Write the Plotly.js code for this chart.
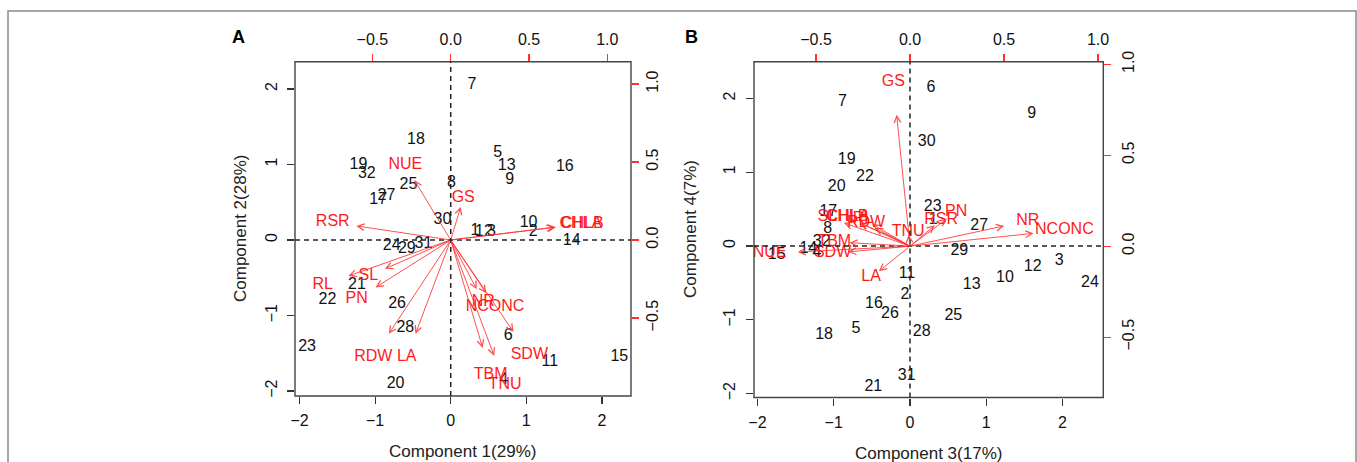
<!DOCTYPE html>
<html>
<head>
<meta charset="utf-8">
<script src="https://cdn.plot.ly/plotly-3.0.1.min.js"></script>
<style>html,body{margin:0;padding:0;background:#fff;}#chart{width:1357px;height:462px;}</style>
</head>
<body>
<div id="chart"></div>
<script>
// ---------- DATA ----------
const sampleIds = ['1','2','3','4','5','6','7','8','9','10','11','12','13','14','15','16',
                   '17','18','19','20','21','22','23','24','25','26','27','28','29','30','31','32'];
// Panel A: scores on components 1 and 2
const comp1A = [0.32,1.09,0.54,0.70,0.62,0.76,0.28,0.01,0.78,1.03,1.31,0.44,0.74,1.60,2.23,1.51,
                -0.96,-0.46,-1.22,-0.73,-1.24,-1.63,-1.90,-0.78,-0.56,-0.71,-0.85,-0.60,-0.58,-0.11,-0.36,-1.11];
const comp2A = [0.12,0.10,0.11,-1.85,1.15,-1.27,2.05,0.75,0.79,0.22,-1.61,0.11,0.98,-0.01,-1.55,0.97,
                0.53,1.33,0.99,-1.91,-0.59,-0.79,-1.42,-0.08,0.73,-0.85,0.58,-1.17,-0.12,0.26,-0.05,0.88];
// Panel B: scores on components 3 and 4
const comp3B = [0.305,-0.066,1.957,-1.22,-0.708,0.275,-0.887,-1.08,1.595,1.245,-0.04,1.608,0.808,-1.333,-1.747,-0.472,
                -1.07,-1.127,-0.83,-0.96,-0.481,-0.59,0.297,2.359,0.568,-0.262,0.908,0.153,0.646,0.219,-0.043,-1.157];
const comp4B = [0.352,-0.664,-0.199,-0.10,-1.129,2.145,1.955,0.225,1.785,-0.44,-0.38,-0.29,-0.528,-0.041,-0.122,-0.786,
                0.465,-1.206,1.165,0.80,-1.915,0.93,0.524,-0.497,-0.944,-0.921,0.275,-1.161,-0.063,1.413,-1.762,0.058];

const variables = ['CHLA','CHLB','GS','PN','LA','RL','SL','RDW','SDW','TBM','RSR','TNU','NUE','NR','NCONC'];
// Loadings (label positions), panel A: components 1 and 2
const load1A = [0.83,0.84,0.08,-0.60,-0.281,-0.817,-0.526,-0.494,0.502,0.255,-0.753,0.347,-0.29,0.208,0.283];
const load2A = [0.103,0.103,0.267,-0.38,-0.752,-0.288,-0.231,-0.752,-0.737,-0.865,0.113,-0.929,0.48,-0.395,-0.427];
// Loadings, panel B: components 3 and 4
const load3B = [-0.33,-0.335,-0.089,0.245,-0.207,-0.25,-0.44,-0.234,-0.412,-0.403,0.165,-0.01,-0.747,0.626,0.821];
const load4B = [0.16,0.16,0.903,0.188,-0.172,0.15,0.16,0.125,-0.04,0.024,0.143,0.079,-0.04,0.139,0.088];

const scoreTicks = [-2,-1,0,1,2];
const loadTicks = [-0.5,0,0.5,1.0];
const axisTitles = ['Component 1(29%)','Component 2(28%)','Component 3(17%)','Component 4(7%)'];
const panelLetters = ['A','B'];

// ---------- LAYOUT HELPERS ----------
const W = 1357, H = 462;
const FONT = 'Liberation Sans, Arial, Helvetica, sans-serif';
const px = v => v / W;
const py = v => 1 - v / H;
const ARROW_SCALE = 0.8; // R biplot: arrows drawn to 0.8 * loading, labels at loading

const frames = {
  A: {l: 295, r: 631, t: 61.7, b: 396},
  B: {l: 754, r: 1103.3, t: 61.7, b: 397.5}
};

function baseAxis(extra) {
  return Object.assign({
    showgrid: false, zeroline: false, showline: false,
    ticks: 'outside', ticklen: 7, tickwidth: 1.2, tickcolor: '#333',
    tickfont: {family: FONT, size: 16, color: '#111'},
    fixedrange: true
  }, extra);
}

const traces = [
  {x: comp1A, y: comp2A, text: sampleIds, mode: 'text', type: 'scatter', xaxis: 'x', yaxis: 'y',
   textfont: {family: FONT, size: 16, color: '#111'}, cliponaxis: false, hoverinfo: 'none'},
  {x: load1A, y: load2A, text: variables, mode: 'text', type: 'scatter', xaxis: 'x2', yaxis: 'y2',
   textfont: {family: FONT, size: 16, color: '#ff1a1a'}, cliponaxis: false, hoverinfo: 'none'},
  {x: comp3B, y: comp4B, text: sampleIds, mode: 'text', type: 'scatter', xaxis: 'x3', yaxis: 'y3',
   textfont: {family: FONT, size: 16, color: '#111'}, cliponaxis: false, hoverinfo: 'none'},
  {x: load3B, y: load4B, text: variables, mode: 'text', type: 'scatter', xaxis: 'x4', yaxis: 'y4',
   textfont: {family: FONT, size: 16, color: '#ff1a1a'}, cliponaxis: false, hoverinfo: 'none'}
];

const annotations = [];
function addArrows(lx, ly, xr, yr) {
  for (let i = 0; i < lx.length; i++) {
    annotations.push({
      xref: xr, yref: yr, axref: xr, ayref: yr,
      x: ARROW_SCALE * lx[i], y: ARROW_SCALE * ly[i], ax: 0, ay: 0,
      text: '', showarrow: true, arrowhead: 5, arrowsize: 1.3, arrowwidth: 1,
      arrowcolor: 'rgba(255,50,50,0.85)', standoff: 0, startstandoff: 0
    });
  }
}
addArrows(load1A, load2A, 'x2', 'y2');
addArrows(load3B, load4B, 'x4', 'y4');

// axis titles & panel letters
annotations.push({xref: 'paper', yref: 'paper', x: px(462), y: py(451), text: axisTitles[0], showarrow: false,
  font: {family: FONT, size: 17, color: '#222'}, xanchor: 'center', yanchor: 'middle'});
annotations.push({xref: 'paper', yref: 'paper', x: px(240), y: py(229), text: axisTitles[1], showarrow: false, textangle: -90,
  font: {family: FONT, size: 17, color: '#222'}, xanchor: 'center', yanchor: 'middle'});
annotations.push({xref: 'paper', yref: 'paper', x: px(928), y: py(453), text: axisTitles[2], showarrow: false,
  font: {family: FONT, size: 17, color: '#222'}, xanchor: 'center', yanchor: 'middle'});
annotations.push({xref: 'paper', yref: 'paper', x: px(690), y: py(229), text: axisTitles[3], showarrow: false, textangle: -90,
  font: {family: FONT, size: 17, color: '#222'}, xanchor: 'center', yanchor: 'middle'});
annotations.push({xref: 'paper', yref: 'paper', x: px(238), y: py(37), text: '<b>' + panelLetters[0] + '</b>', showarrow: false,
  font: {family: FONT, size: 18, color: '#000'}, xanchor: 'center', yanchor: 'middle'});
annotations.push({xref: 'paper', yref: 'paper', x: px(691), y: py(37), text: '<b>' + panelLetters[1] + '</b>', showarrow: false,
  font: {family: FONT, size: 18, color: '#000'}, xanchor: 'center', yanchor: 'middle'});

const shapes = [
  // outer figure frame
  {type: 'rect', xref: 'paper', yref: 'paper', x0: px(8), x1: px(1356), y0: py(480), y1: py(11),
   line: {color: '#8a8a8a', width: 1.5}, layer: 'below'}
];
['A','B'].forEach((k, i) => {
  const f = frames[k];
  shapes.push({type: 'rect', xref: 'paper', yref: 'paper', x0: px(f.l), x1: px(f.r), y0: py(f.b), y1: py(f.t),
    line: {color: '#444', width: 1.4}});
  const xa = i === 0 ? 'x' : 'x3', ya = i === 0 ? 'y' : 'y3';
  shapes.push({type: 'line', xref: xa, yref: ya + ' domain', x0: 0, x1: 0, y0: 0, y1: 1,
    line: {color: '#222', width: 1.5, dash: '5px,4px'}});
  shapes.push({type: 'line', xref: xa + ' domain', yref: ya, x0: 0, x1: 1, y0: 0, y1: 0,
    line: {color: '#222', width: 1.5, dash: '5px,4px'}});
});

const fA = frames.A, fB = frames.B;
const layout = {
  width: W, height: H, margin: {l: 0, r: 0, t: 0, b: 0},
  paper_bgcolor: '#fff', plot_bgcolor: 'rgba(0,0,0,0)', showlegend: false,
  font: {family: FONT},
  xaxis: baseAxis({domain: [px(fA.l), px(fA.r)], range: [-2.06, 2.385], tickvals: scoreTicks, anchor: 'y', side: 'bottom', ticklabelstandoff: 3}),
  yaxis: baseAxis({domain: [py(fA.b), py(fA.t)], range: [-2.066, 2.362], tickvals: scoreTicks, anchor: 'x', side: 'left', tickangle: -90, ticklabelstandoff: 4}),
  xaxis2: baseAxis({overlaying: 'x', side: 'top', anchor: 'y', range: [-0.994, 1.151], tickvals: loadTicks, tickformat: '.1f',
    tickcolor: '#ff3030', ticklabelstandoff: 2}),
  yaxis2: baseAxis({overlaying: 'y', side: 'right', anchor: 'x', range: [-1.0, 1.143], tickvals: loadTicks, tickformat: '.1f',
    tickcolor: '#ff3030', tickangle: -90, ticklabelstandoff: 0}),
  xaxis3: baseAxis({domain: [px(fB.l), px(fB.r)], range: [-2.045, 2.534], tickvals: scoreTicks, anchor: 'y3', side: 'bottom', ticklabelstandoff: 3}),
  yaxis3: baseAxis({domain: [py(fB.b), py(fB.t)], range: [-2.053, 2.497], tickvals: scoreTicks, anchor: 'x3', side: 'left', tickangle: -90, ticklabelstandoff: 5}),
  xaxis4: baseAxis({overlaying: 'x3', side: 'top', anchor: 'y3', range: [-0.83, 1.028], tickvals: loadTicks, tickformat: '.1f',
    tickcolor: '#ff3030', ticklabelstandoff: 2}),
  yaxis4: baseAxis({overlaying: 'y3', side: 'right', anchor: 'x3', range: [-0.832, 1.014], tickvals: loadTicks, tickformat: '.1f',
    tickcolor: '#ff3030', tickangle: -90, ticklabelstandoff: 3}),
  shapes: shapes,
  annotations: annotations
};

Plotly.newPlot('chart', traces, layout, {staticPlot: true, displayModeBar: false});
</script>
</body>
</html>
